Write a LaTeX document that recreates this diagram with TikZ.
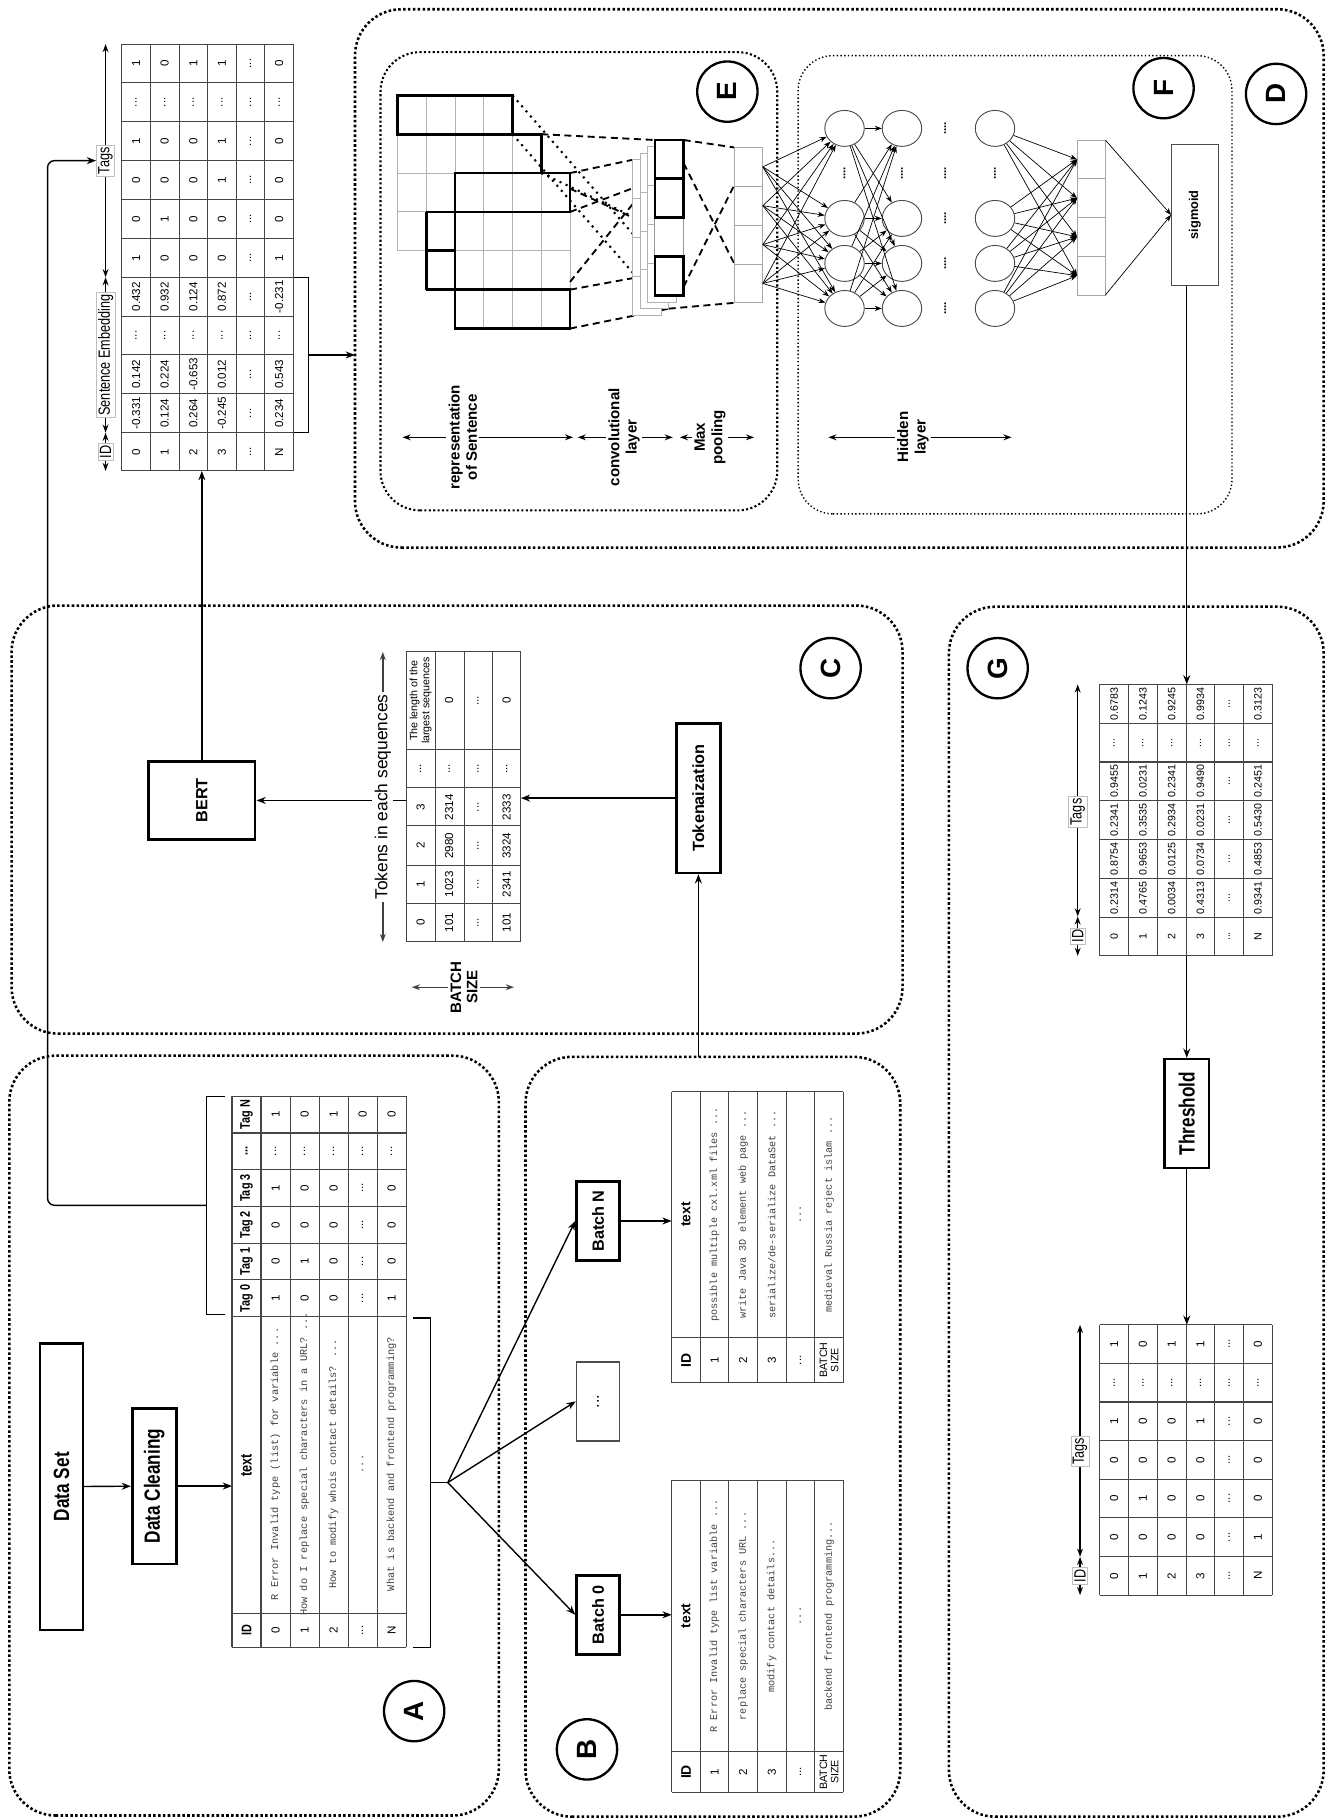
\documentclass[tikz,border=0pt]{standalone}
\usepackage{fontspec}
\setmainfont{Liberation Sans}
\newfontfamily\narrowfont[FakeStretch=0.78]{Liberation Sans}
\newfontfamily\codefamily{Liberation Mono}
\usetikzlibrary{arrows.meta,shapes.geometric}

\newcommand{\dts}{...}
\newcommand{\tabfont}{\fontsize{5}{6}\selectfont}
\newcommand{\headfont}{\narrowfont\bfseries\fontsize{6}{7}\selectfont}
\newcommand{\codefont}{\codefamily\fontsize{4.4}{5}\selectfont}
\newcommand{\boxfont}{\narrowfont\bfseries\fontsize{9.5}{11}\selectfont}
\newcommand{\blockfont}{\bfseries\fontsize{7}{8}\selectfont}
\newcommand{\labfont}{\bfseries\fontsize{6.5}{7.5}\selectfont}
\newcommand{\dimfont}{\narrowfont\fontsize{7}{8}\selectfont}

\tikzset{
  zone/.style={draw, line width=1.1pt, densely dotted, rounded corners=20pt},
  inzone/.style={draw, line width=0.9pt, densely dotted, rounded corners=17pt},
  thinzone/.style={draw, line width=0.6pt, densely dotted, rounded corners=15pt},
  letter/.style={circle, draw, line width=1pt, minimum size=26pt, inner sep=0pt, font=\bfseries\fontsize{12}{12}\selectfont},
  stepbox/.style={draw, line width=1.1pt, inner sep=1pt, font=\boxfont},
  block/.style={draw, line width=1.1pt, inner sep=1pt, font=\blockfont},
  tline/.style={draw=gray!55!black, line width=0.45pt},
  cell/.style={inner sep=0pt, font=\tabfont},
  hcell/.style={inner sep=0pt, font=\headfont},
  bhcell/.style={inner sep=0pt, font=\bfseries\fontsize{6}{7}\selectfont},
  code/.style={inner sep=0pt, font=\codefont, text=black!75},
  arr/.style={-{Stealth[length=4pt,width=3pt]}, line width=0.6pt},
  dimarr/.style={{Stealth[length=3.5pt,width=2.5pt]}-{Stealth[length=3.5pt,width=2.5pt]}, line width=0.6pt},
  dimlabel/.style={fill=white, draw=gray!50, line width=0.3pt, inner sep=0.8pt, font=\dimfont},
  layerlabel/.style={fill=white, inner sep=1pt, align=center, font=\labfont},
  neuron/.style={ellipse, draw=gray!60!black, line width=0.4pt, minimum width=15.5pt, minimum height=17pt, inner sep=0pt},
  link/.style={-{Stealth[length=3pt,width=2.2pt]}, line width=0.3pt},
  kern/.style={line width=1.2pt},
  fmap/.style={draw=gray!60, line width=0.4pt, fill=white},
  fline/.style={draw=gray!60, line width=0.4pt},
  fdash/.style={dash pattern=on 3pt off 2pt, line width=0.8pt},
  fdot/.style={dotted, line width=0.9pt},
}

\begin{document}
\begin{tikzpicture}[x=0.5pt, y=-0.5pt, rotate=90, transform shape]
\useasboundingbox (0,0) rectangle (1568,1146);

\draw[zone] (3,8) rectangle (658,430);
\draw[zone] (2,453) rectangle (657,776);
\draw[zone] (677,10) rectangle (1046,778);
\draw[zone] (1096,306) rectangle (1560,1141);
\draw[inzone] (1128,328) rectangle (1523,670);
\draw[thinzone] (1125,688) rectangle (1520,1062);
\draw[zone] (2,818) rectangle (1045,1141);

\node[letter] (la) at (93,357) {A};
\node[letter] (lb) at (60,506) {B};
\node[letter] (lc) at (992,716) {C};
\node[letter] (ld) at (1487,1100) {D};
\node[letter] (le) at (1489,627) {E};
\node[letter] (lf) at (1492,1003) {F};
\node[letter] (lg) at (992,860) {G};

\node[stepbox, minimum width=123.5pt, minimum height=18.5pt] (dataset) at (286.5,53) {Data Set};
\node[stepbox, minimum width=67pt, minimum height=19pt] (clean) at (287,133) {Data Cleaning};
\coordinate (ta-in) at (287,200);
\draw[arr] (dataset) -- (clean);
\draw[arr] (clean) -- (ta-in);

\foreach \k in {0,...,6} \draw[tline] (148,{200+25*\k}) -- (623,{200+25*\k});
\foreach \uu in {148,177,433,464.67,496.33,528,559.67,591.33,623} \draw[tline] (\uu,200) -- (\uu,350);
\node[hcell] (ta-0-id) at (162.5,212.5) {ID};
\node[hcell, font=\narrowfont\bfseries\fontsize{7}{8}\selectfont] (ta-0-txt) at (305,212.5) {text};
\foreach \tg [count=\col] in {Tag 0,Tag 1,Tag 2,Tag 3,\dts,Tag N}
  \node[hcell] (ta-0-\col) at ({433+31.67*(\col-0.5)},212.5) {\tg};
\foreach \id/\txt/\ta/\tb/\tc/\td/\te/\tf [count=\row] in {
  0/R Error Invalid type (list) for variable \dts/1/0/0/1/\dts/1,
  1/How do I replace special characters in a URL? \dts/0/1/0/0/\dts/0,
  2/How to modify whois contact details? \dts/0/0/0/0/\dts/1,
  \dts/\dts/\dts/\dts/\dts/\dts/\dts/0,
  N/What is backend and frontend programming?/1/0/0/0/\dts/0}{
  \node[cell] (ta-\row-id) at (162.5,{212.5+25*\row}) {\id};
  \node[code, font=\codefamily\fontsize{4.45}{5}\selectfont] (ta-\row-txt) at (306,{212.5+25*\row}) {\txt};
  \foreach \val [count=\col] in {\ta,\tb,\tc,\td,\te,\tf}
    \node[cell] (ta-\row-\col) at ({433+31.67*(\col-0.5)},{212.5+25*\row}) {\val};
}

\draw[line width=0.6pt] (435,194) -- (435,178) -- (623,178) -- (623,194);
\coordinate (tagbrk) at (529,178);
\draw[line width=0.6pt] (148,356) -- (148,371) -- (432,371) -- (432,356);
\coordinate (fan) at (290,386);
\draw[line width=0.6pt] (290,371) -- (fan);

\node[block, minimum width=34pt, minimum height=18.5pt] (b0) at (176,515.5) {Batch 0};
\node[block, draw=gray!60!black, line width=0.7pt, minimum width=34pt, minimum height=18.5pt, font=\fontsize{7}{8}\selectfont] (bdots) at (360,515.5) {\dts};
\node[block, minimum width=34pt, minimum height=18.5pt] (bn) at (515.5,515.5) {Batch N};
\foreach \bx in {b0,bdots,bn} \draw[arr] (fan) -- (\bx.north);

\foreach \k in {0,...,6} \draw[tline] (23,{579+24.667*\k}) -- (292,{579+24.667*\k});
\foreach \uu in {23,58,292} \draw[tline] (\uu,579) -- (\uu,727);
\node[bhcell] (b0t-0-id) at (40.5,591.3) {ID};
\node[bhcell] (b0t-0-txt) at (175,591.3) {text};
\foreach \id/\txt [count=\row] in {1/R Error Invalid type list variable \dts,2/replace special characters URL \dts,3/modify contact details\dts,\dts/\dts}{
  \node[cell] (b0t-\row-id) at (40.5,{591.3+24.667*\row}) {\id};
  \node[code] (b0t-\row-txt) at (175,{591.3+24.667*\row}) {\txt};
}
\node[cell, align=center, font=\fontsize{4.6}{4.8}\selectfont] (b0t-5-id) at (40.5,714.7) {BATCH\\SIZE};
\node[code] (b0t-5-txt) at (175,714.7) {backend frontend programming\dts};
\coordinate (b0t-in) at (176,579);
\draw[arr] (b0) -- (b0t-in);

\foreach \k in {0,...,6} \draw[tline] (376,{579+24.667*\k}) -- (627,{579+24.667*\k});
\foreach \uu in {376,415,627} \draw[tline] (\uu,579) -- (\uu,727);
\node[bhcell] (bnt-0-id) at (395.5,591.3) {ID};
\node[bhcell] (bnt-0-txt) at (521,591.3) {text};
\foreach \id/\txt [count=\row] in {1/possible multiple cxl.xml files \dts,2/write Java 3D element web page \dts,3/{serialize/de-serialize DataSet \dts},\dts/\dts}{
  \node[cell] (bnt-\row-id) at (395.5,{591.3+24.667*\row}) {\id};
  \node[code] (bnt-\row-txt) at (521,{591.3+24.667*\row}) {\txt};
}
\node[cell, align=center, font=\fontsize{4.6}{4.8}\selectfont] (bnt-5-id) at (395.5,714.7) {BATCH\\SIZE};
\node[code] (bnt-5-txt) at (521,714.7) {medieval Russia reject islam \dts};
\coordinate (bnt-in) at (515.5,579);
\draw[arr] (bn) -- (bnt-in);

\node[block, minimum width=64.5pt, minimum height=19pt] (tok) at (880,602) {Tokenaization};
\coordinate (b-out) at (657,602);
\coordinate (tc-in) at (880,449);
\draw[arr] (b-out) -- (tok);
\draw[arr] (tok) -- (tc-in);

\foreach \vv in {350,375,400,424.5,449} \draw[tline] (756,\vv) -- (1006,\vv);
\foreach \uu in {756,789,822,856,889,922,1006} \draw[tline] (\uu,350) -- (\uu,449);
\foreach \val [count=\col] in {0,1,2,3,\dts}
  \node[cell] (tc-0-\col) at ({756+33.2*(\col-0.5)},362.5) {\val};
\node[cell, align=center, font=\fontsize{4.6}{5.2}\selectfont] (tc-0-6) at (964,362.5) {The length of the\\largest sequences};
\foreach \ta/\tb/\tc/\td/\te/\tf [count=\row] in {101/1023/2980/2314/\dts/0,\dts/\dts/\dts/\dts/\dts/\dts,101/2341/3324/2333/\dts/0}{
  \foreach \val [count=\col] in {\ta,\tb,\tc,\td,\te}
    \node[cell] (tc-\row-\col) at ({756+33.2*(\col-0.5)},{362.5+24.75*\row}) {\val};
  \node[cell] (tc-\row-6) at (964,{362.5+24.75*\row}) {\tf};
}

\node[block, minimum width=33.5pt, minimum height=46pt] (bert) at (878,174) {BERT};
\coordinate (tc-top) at (878,350);
\draw[arr] (tc-top) -- (bert);
\draw[dimarr, gray!50!black] (756,330) -- (1006,330);
\node[fill=white, inner sep=1pt, font=\fontsize{7.5}{8}\selectfont] (tokdim) at (881,330) {Tokens in each sequences};
\draw[dimarr, gray!50!black] (717,355) -- (717,443);
\node[fill=white, inner sep=1pt, align=center, font=\bfseries\fontsize{6.5}{7}\selectfont] (bsdim) at (717,400) {BATCH\\SIZE};

\coordinate (d-in) at (1162,174);
\draw[arr] (bert) -- (d-in);
\foreach \k in {0,...,6} \draw[tline] (1162,{105+24.667*\k}) -- (1530,{105+24.667*\k});
\draw[tline] (1162,105) -- (1162,253);
\foreach \k in {0,...,10} \draw[tline] ({1195+33.5*\k},105) -- ({1195+33.5*\k},253);
\foreach \id/\ea/\eb/\ec/\ed/\ta/\tb/\tc/\td/\te/\tf [count=\row] in {
  0/-0.331/0.142/\dts/0.432/1/0/0/1/\dts/1,
  1/0.124/0.224/\dts/0.932/0/1/0/0/\dts/0,
  2/0.264/-0.653/\dts/0.124/0/0/0/0/\dts/1,
  3/-0.245/0.012/\dts/0.872/0/0/1/1/\dts/1,
  \dts/\dts/\dts/\dts/\dts/\dts/\dts/\dts/\dts/\dts/\dts,
  N/0.234/0.543/\dts/-0.231/1/0/0/0/\dts/0}{
  \node[cell] (d-\row-0) at (1178.5,{105+24.667*(\row-0.5)}) {\id};
  \foreach \val [count=\col] in {\ea,\eb,\ec,\ed,\ta,\tb,\tc,\td,\te,\tf}
    \node[cell] (d-\row-\col) at ({1195+33.5*(\col-0.5)},{105+24.667*(\row-0.5)}) {\val};
}
\draw[dimarr] (1162,91) -- (1195,91);
\draw[dimarr] (1195,91) -- (1329,91);
\draw[dimarr] (1329,91) -- (1530,91);
\node[dimlabel] (d-idl) at (1178.5,91) {ID};
\node[dimlabel] (d-emb) at (1262,91) {Sentence Embedding};
\node[dimlabel] (d-tags) at (1429.5,91) {Tags};
\draw[line width=0.6pt] (1195,253) -- (1195,266) -- (1329,266) -- (1329,253);
\coordinate (emb-out) at (1262,266);
\coordinate (d-edge) at (1262,306);
\draw[arr] (emb-out) -- (d-edge);
\draw[arr, rounded corners=3pt] (tagbrk) -- (529,41) -- (1429.5,41) -- (d-tags.north);

\begin{scope}[shift={(1284.8,342.6)}, x=16.75pt, y=-12.4pt]
  \foreach \gx/\gy in {2/0,1/1,0/2}
    \foreach \k in {0,...,4} {
      \draw[fline] (\gx+\k,\gy) -- (\gx+\k,\gy+4);
      \draw[fline] (\gx,\gy+\k) -- (\gx+4,\gy+\k);
    }
  \draw[kern] (5,0) rectangle (6,4);
  \draw[kern] (5,4) -- (5,5) -- (4,5);
  \draw[kern] (3,1) -- (3,6) (3,1) -- (1,1) (2,1) -- (2,2) (1,1) -- (1,6) (4,2) -- (0,2);
  \draw[kern] (3,2) rectangle (4,6);
  \draw[kern] (0,2) rectangle (1,6);
  \draw[fdot] (6,4) -- (2,8.69);
  \draw[fdot] (5,4) -- (1,8.69);
  \draw[fdot] (4,5) -- (2.7,8.7);
  \draw[fdash] (5,5) -- (4.85,8.95);
  \draw[fdash] (4,6) -- (4.34,8.17);
  \draw[fdash] (3,6) -- (3.68,8.43);
  \draw[fdash] (3.6,6) -- (2.68,8.69);
  \draw[fdash] (1.2,6) -- (3.5,8.5);
  \draw[fdash] (1,6) -- (1.33,8.43);
  \draw[fdash] (0,6) -- (0.51,9.43);
  \foreach \s in {3,2,1} {
    \draw[fmap] ({0.85-0.17*\s},{8.95-0.26*\s}) rectangle ({4.85-0.17*\s},{9.95-0.26*\s});
    \foreach \k in {1,2,3}
      \draw[fline] ({0.85-0.17*\s+\k},{8.95-0.26*\s}) -- ({0.85-0.17*\s+\k},{9.95-0.26*\s});
  }
  \draw[fmap, draw=gray!80] (0.85,8.95) rectangle (4.85,9.95);
  \foreach \k in {1,2,3} \draw[fline] ({0.85+\k},8.95) -- ({0.85+\k},9.95);
  \draw[kern] (3.85,8.95) rectangle (4.85,9.95);
  \draw[kern] (2.85,8.95) rectangle (3.85,9.95);
  \draw[kern] (0.85,8.95) rectangle (1.85,9.95);
  \draw[fdash] (4.85,9.95) -- (4.66,11.7);
  \draw[fdash] (4.25,9.95) -- (1.68,11.7);
  \draw[fdash] (1.08,9.95) -- (3.68,11.7);
  \draw[fdash] (0.51,9.43) -- (0.66,11.7);
  \draw[fmap, draw=gray!70] (0.66,11.7) rectangle (4.66,12.7);
  \foreach \k in {1,2,3} \draw[fline, draw=gray!70] ({0.66+\k},11.7) -- ({0.66+\k},12.7);
  \foreach \k in {1,...,4} \coordinate (pool\k) at ({0.66+\k-0.5},12.7);
\end{scope}

\draw[dimarr] (1191,347) -- (1191,494);
\node[layerlabel] (lab-rep) at (1191,399) {representation\\of Sentence};
\draw[dimarr] (1191,498) -- (1191,580);
\node[layerlabel] (lab-conv) at (1191,538) {convolutional\\layer};
\draw[dimarr] (1191,586) -- (1191,650);
\node[layerlabel] (lab-pool) at (1191,612) {Max\\pooling};
\draw[dimarr] (1191,714) -- (1191,872);
\node[layerlabel] (lab-hid) at (1191,787) {Hidden\\layer};

\foreach \lay/\lv in {1/728,2/777.5,3/857.7}
  \foreach \nn/\nu in {1/1457.3,2/1379.7,3/1340.9,4/1302.1}
    \node[neuron] (n\lay-\nn) at (\nu,\lv) {};
\foreach \lay/\lv in {1/728,2/777.5,3/857.7}
  \node[cell, font=\bfseries\fontsize{5}{6}\selectfont] (nd\lay) at (1418.5,\lv) {\dts.};
\foreach \nn/\nu in {1/1457.3,2/1418.5,3/1379.7,4/1340.9,5/1302.1}
  \node[cell, font=\bfseries\fontsize{5}{6}\selectfont] (ndc\nn) at (\nu,814.9) {\dts.};

\draw[fmap, draw=gray!70] (1313.6,928.4) rectangle (1447.3,952.8);
\foreach \k in {1,2,3} \draw[fline, draw=gray!70] ({1313.6+33.42*\k},928.4) -- ({1313.6+33.42*\k},952.8);
\foreach \k in {1,...,4} \coordinate (out\k) at ({1447.3-33.42*(\k-0.5)},928.4);
\coordinate (outa) at (1447.3,952.8);
\coordinate (outb) at (1313.6,952.8);

\foreach \p in {1,...,4} \foreach \q in {1,...,4} \draw[link] (pool\p) -- (n1-\q);
\foreach \p in {1,...,4} \foreach \q in {1,...,4} \draw[link] (n1-\p) -- (n2-\q);
\foreach \p in {1,...,4} \foreach \q in {1,...,4} \draw[link] (n3-\p) -- (out\q);

\node[draw=gray!60!black, line width=0.5pt, minimum width=61pt, minimum height=20pt, font=\bfseries\fontsize{5.5}{6}\selectfont] (sig) at (1382.75,1030) {sigmoid};
\draw[link] (outa) -- (sig.north);
\draw[link] (outb) -- (sig.north);

\coordinate (sig-out) at (1321.6,1023);
\coordinate (gp-in) at (978,1023);
\draw[arr] (sig-out) -- (gp-in);

\foreach \k in {0,...,6} \draw[tline] (744,{948+24.8*\k}) -- (978,{948+24.8*\k});
\foreach \k in {0,...,7} \draw[tline] ({744+33.43*\k},948) -- ({744+33.43*\k},1096.8);
\foreach \id/\ta/\tb/\tc/\td/\te/\tf [count=\row] in {
  0/0.2314/0.8754/0.2341/0.9455/\dts/0.6783,
  1/0.4765/0.9653/0.3535/0.0231/\dts/0.1243,
  2/0.0034/0.0125/0.2934/0.2341/\dts/0.9245,
  3/0.4313/0.0734/0.0231/0.9490/\dts/0.9934,
  \dts/\dts/\dts/\dts/\dts/\dts/\dts,
  N/0.9341/0.4853/0.5430/0.2451/\dts/0.3123}
  \foreach \val [count=\col] in {\id,\ta,\tb,\tc,\td,\te,\tf}
    \node[cell, font=\fontsize{4.6}{5}\selectfont] (gp-\row-\col) at ({744+33.43*(\col-0.5)},{948+24.8*(\row-0.5)}) {\val};
\draw[dimarr] (744,929) -- (778,929);
\draw[dimarr] (778,929) -- (978,929);
\node[dimlabel] (gp-idl) at (761,929) {ID};
\node[dimlabel] (gp-tags) at (868,929) {Tags};

\node[stepbox, minimum width=47pt, minimum height=19pt] (thr) at (608,1023) {Threshold};
\coordinate (gp-out) at (744,1023);
\coordinate (gl-in) at (426,1023);
\draw[arr] (gp-out) -- (thr);
\draw[arr] (thr) -- (gl-in);

\foreach \k in {0,...,6} \draw[tline] (193,{948+24.8*\k}) -- (426,{948+24.8*\k});
\foreach \k in {0,...,7} \draw[tline] ({193+33.29*\k},948) -- ({193+33.29*\k},1096.8);
\foreach \id/\ta/\tb/\tc/\td/\te/\tf [count=\row] in {
  0/0/0/0/1/\dts/1,
  1/0/1/0/0/\dts/0,
  2/0/0/0/0/\dts/1,
  3/0/0/0/1/\dts/1,
  \dts/\dts/\dts/\dts/\dts/\dts/\dts,
  N/1/0/0/0/\dts/0}
  \foreach \val [count=\col] in {\id,\ta,\tb,\tc,\td,\te,\tf}
    \node[cell] (gl-\row-\col) at ({193+33.29*(\col-0.5)},{948+24.8*(\row-0.5)}) {\val};
\draw[dimarr] (193,931) -- (226,931);
\draw[dimarr] (226,931) -- (426,931);
\node[dimlabel] (gl-idl) at (209.5,931) {ID};
\node[dimlabel] (gl-tags) at (317,931) {Tags};
\end{tikzpicture}
\end{document}
